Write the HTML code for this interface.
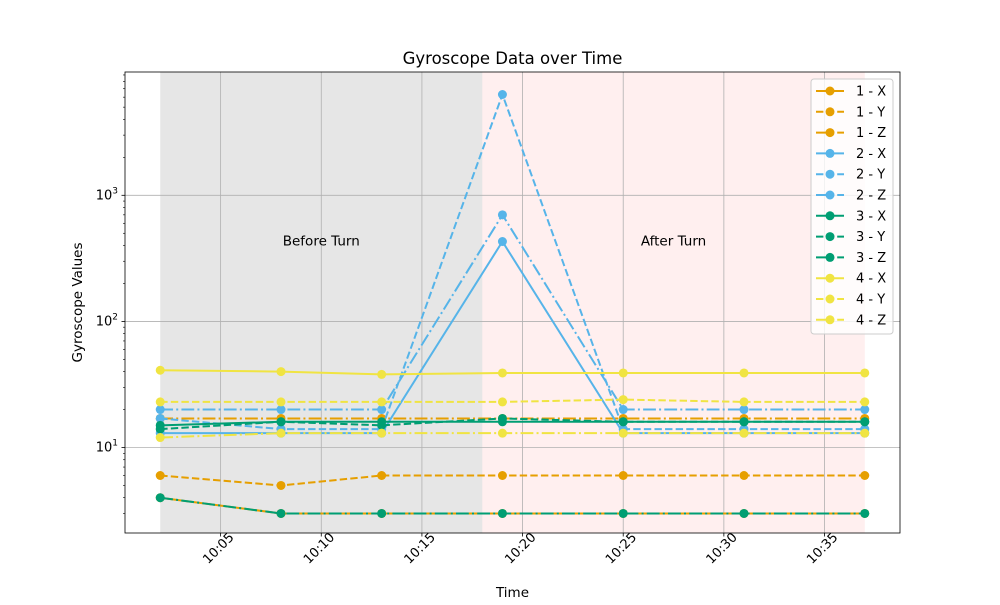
<!DOCTYPE html>
<html><head><meta charset="utf-8"><style>
body{margin:0;background:#fff;font-family:"Liberation Sans","DejaVu Sans",sans-serif}
</style></head><body>
<svg id="chart" width="1000" height="600" xmlns="http://www.w3.org/2000/svg" font-family="DejaVu Sans, Liberation Sans, sans-serif"></svg>
<script>
const times=[2,8,13,19,25,31,37];
const seriesNames=["1 - X","1 - Y","1 - Z","2 - X","2 - Y","2 - Z","3 - X","3 - Y","3 - Z","4 - X","4 - Y","4 - Z"];
const s1x=[4,3,3,3,3,3,3];
const s1y=[6,5,6,6,6,6,6];
const s1z=[17,17,17,17,17,17,17];
const s2x=[13,13,13,430,13,13,13];
const s2y=[17,14,14,6300,14,14,14];
const s2z=[20,20,20,700,20,20,20];
const s3x=[15,16,16,16,16,16,16];
const s3y=[14,16,15,17,16,16,16];
const s3z=[4,3,3,3,3,3,3];
const s4x=[41,40,38,39,39,39,39];
const s4y=[23,23,23,23,24,23,23];
const s4z=[12,13,13,13,13,13,13];
const xTickMinutes=[5,10,15,20,25,30,35];
const xTickLabels=["10:05","10:10","10:15","10:20","10:25","10:30","10:35"];
const yTickExps=[1,2,3];
const turnMinute=18;

const svg=document.getElementById('chart');
const NS='http://www.w3.org/2000/svg';
const L=125,R=900,T=72,B=533;
const xMin=0.25,xMax=38.75;
const yMinL=Math.log10(2.1),yMaxL=Math.log10(9500);
const X=m=>L+(m-xMin)/(xMax-xMin)*(R-L);
const Y=v=>B-(Math.log10(v)-yMinL)/(yMaxL-yMinL)*(B-T);
function el(t,a,p){const e=document.createElementNS(NS,t);for(const k in a)e.setAttribute(k,a[k]);(p||svg).appendChild(e);return e;}

let r=el('rect',{x:X(times[0]),y:T,width:X(turnMinute)-X(times[0]),height:B-T,fill:'#808080','fill-opacity':0.2});


r=el('rect',{x:X(turnMinute),y:T,width:X(times[6])-X(turnMinute),height:B-T,fill:'#ffc0c0','fill-opacity':0.25});



xTickMinutes.forEach((m,i)=>{
 const g=el('line',{x1:X(m),x2:X(m),y1:T,y2:B,stroke:'#b0b0b0','stroke-width':0.8});
 
 
 el('line',{x1:X(m),x2:X(m),y1:B,y2:B+3.5,stroke:'#000','stroke-width':0.8});
 const t=el('text',{x:0,y:0,'font-size':13,'text-anchor':'end',transform:`translate(${X(m)+14},${B+5}) rotate(-45)`});
 
 
 t.textContent=xTickLabels[i];
});
yTickExps.forEach(e=>{
 const v=Math.pow(10,e);
 const g=el('line',{x1:L,x2:R,y1:Y(v),y2:Y(v),stroke:'#b0b0b0','stroke-width':0.8});
 
 
 el('line',{x1:L-3.5,x2:L,y1:Y(v),y2:Y(v),stroke:'#000','stroke-width':0.8});
 const t=el('text',{x:L-7,y:Y(v)+4,'font-size':13,'text-anchor':'end'});
 
 
 t.innerHTML='10<tspan dy="-6" font-size="9">'+e+'</tspan>';
});
for(let e=0;e<4;e++)for(let k=2;k<10;k++){const v=k*Math.pow(10,e);if(v<2.1||v>9500)continue;
 el('line',{x1:L-2,x2:L,y1:Y(v),y2:Y(v),stroke:'#000','stroke-width':0.6});}

let t=el('text',{x:X(10),y:Y(400),'font-size':13.5,'text-anchor':'middle'});


t.textContent='Before Turn';
t=el('text',{x:X(27.5),y:Y(400),'font-size':13.5,'text-anchor':'middle'});


t.textContent='After Turn';

const data=[s1x,s1y,s1z,s2x,s2y,s2z,s3x,s3y,s3z,s4x,s4y,s4z];
const colors=['#e69f00','#56b4e9','#009e73','#f0e442'];
const dashes=['','7.4,3.2','12.8,3.2,2,3.2'];
data.forEach((s,i)=>{
 const c=colors[Math.floor(i/3)],d=dashes[i%3];
 const g=el('g',{});
 
 
 el('polyline',{points:s.map((v,j)=>X(times[j])+','+Y(v)).join(' '),fill:'none',stroke:c,'stroke-width':2,'stroke-dasharray':d},g);
 s.forEach((v,j)=>{const p=el('circle',{cx:X(times[j]),cy:Y(v),r:4.5,fill:c},g);
  
  });
});

el('rect',{x:L,y:T,width:R-L,height:B-T,fill:'none',stroke:'#000','stroke-width':0.8});

const lg=el('g',{});


el('rect',{x:811,y:79,width:82,height:255,rx:3,fill:'#fff','fill-opacity':0.8,stroke:'#ccc'},lg);
seriesNames.forEach((n,i)=>{
 const y=91+i*20.8,c=colors[Math.floor(i/3)];
 const g=el('g',{},lg);
 
 
 el('line',{x1:816,x2:844,y1:y,y2:y,stroke:c,'stroke-width':2,'stroke-dasharray':dashes[i%3]},g);
 el('circle',{cx:830,cy:y,r:4.5,fill:c},g);
 const tt=el('text',{x:856,y:y+4.5,'font-size':13},g);
 tt.textContent=n;
});

t=el('text',{x:512.5,y:64,'font-size':16.5,'text-anchor':'middle'});


t.textContent='Gyroscope Data over Time';
t=el('text',{x:512.5,y:597,'font-size':13.5,'text-anchor':'middle'});


t.textContent='Time';
t=el('text',{x:0,y:0,'font-size':13.5,'text-anchor':'middle',transform:`translate(82,${(T+B)/2}) rotate(-90)`});


t.textContent='Gyroscope Values';
</script>
</body></html>
